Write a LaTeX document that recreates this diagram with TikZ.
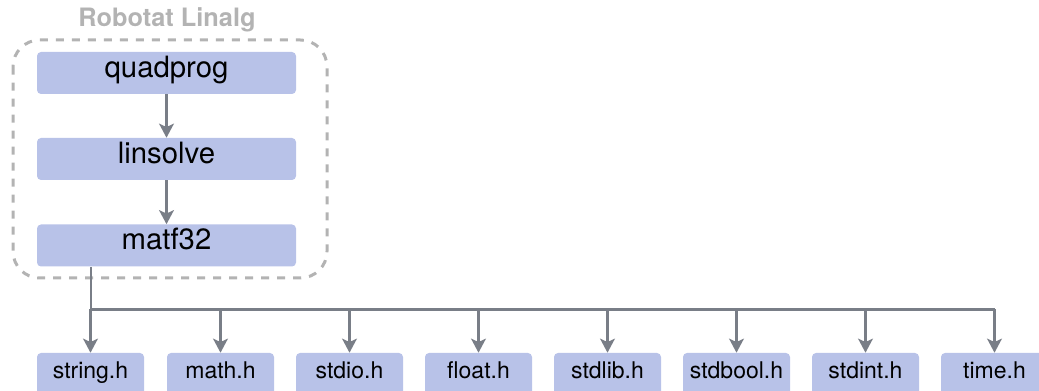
\documentclass[tikz,border=0pt]{standalone}
\usepackage{fontspec}
\setmainfont{TeX Gyre Heros}
\usetikzlibrary{arrows.meta}

\definecolor{boxfill}{HTML}{B8C2E8}
\definecolor{linkgray}{HTML}{797E87}
\definecolor{groupgray}{HTML}{B3B3B3}

\tikzset{
  modbox/.style={rectangle, rounded corners=3pt, fill=boxfill, inner sep=0pt,
    minimum width=194.25pt, minimum height=31.5pt, font=\fontsize{22}{24}\selectfont,
    text height=0.8em, text depth=0.18em},
  hdrbox/.style={rectangle, rounded corners=3pt, fill=boxfill, inner sep=0pt,
    minimum width=80.25pt, minimum height=31.5pt, font=\fontsize{17.25}{19}\selectfont,
    text height=0.8em, text depth=0.18em},
  link/.style={draw=linkgray, line width=2.1pt},
  linkarrow/.style={link, -{Stealth[length=10.5pt, width=11pt, inset=2.5pt]}},
  groupframe/.style={draw=groupgray, line width=2.25pt, dash pattern=on 6pt off 6pt,
    rounded corners=20pt},
  grouptitle/.style={text=groupgray, font=\fontsize{19}{21}\selectfont\bfseries}
}

\begin{document}
\begin{tikzpicture}[x=0.75pt, y=-0.75pt]
  \useasboundingbox (0,0) rectangle (1039,391);

  % library group
  \draw[groupframe] (13,40) rectangle (327,278);
  \node[grouptitle] (title) at (167,20) {Robotat Linalg};

  \node[modbox] (quadprog) at (166.5,73) {quadprog};
  \node[modbox] (linsolve) at (166.5,159) {linsolve};
  \node[modbox] (matf32) at (166.5,245.5) {matf32};

  \draw[linkarrow] (quadprog) -- (linsolve);
  \draw[linkarrow] (linsolve) -- (matf32);

  % standard headers
  \node[hdrbox] (string)  at (90.5,374) {string.h};
  \node[hdrbox] (math)    at (220.5,374) {math.h};
  \node[hdrbox] (stdio)   at (349.5,374) {stdio.h};
  \node[hdrbox] (float)   at (478.5,374) {float.h};
  \node[hdrbox] (stdlib)  at (607.5,374) {stdlib.h};
  \node[hdrbox] (stdbool) at (736.5,374) {stdbool.h};
  \node[hdrbox] (stdint)  at (865.5,374) {stdint.h};
  \node[hdrbox] (time)    at (994.5,374) {time.h};

  % distribution bus
  \coordinate (trunk) at (91,309.5);
  \coordinate (busend) at (994.5,309.5);
  \draw[link] (matf32.south -| trunk) -- (trunk) -- (busend);
  \foreach \h in {string,math,stdio,float,stdlib,stdbool,stdint,time}
    \draw[linkarrow] (trunk -| \h.north) -- (\h.north);
\end{tikzpicture}
\end{document}
